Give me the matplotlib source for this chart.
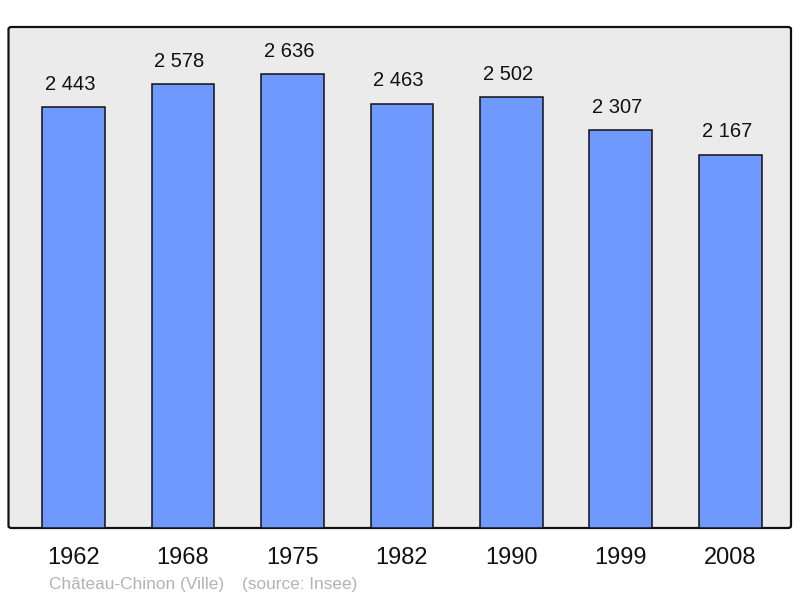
import matplotlib
matplotlib.use("Agg")
from matplotlib import pyplot as plt
from matplotlib.patches import FancyBboxPatch

years = ["1962", "1968", "1975", "1982", "1990", "1999", "2008"]
population = [2443, 2578, 2636, 2463, 2502, 2307, 2167]
value_labels = ["2 443", "2 578", "2 636", "2 463", "2 502", "2 307", "2 167"]
commune = "Château-Chinon (Ville)"
source = "(source: Insee)"

plt.rcParams['font.family'] = ['Liberation Sans', 'DejaVu Sans']

W, H = 800, 598
fig = plt.figure(figsize=(W / 100, H / 100), dpi=100)
# panel: x 8.5..791, y 27..528 (pixels from top)
ax = fig.add_axes([8.5 / W, (H - 528) / H, (791 - 8.5) / W, (528 - 27) / H])
ax.patch.set_visible(False)

bg = FancyBboxPatch((0, 0), 1, 1, boxstyle="round,pad=0,rounding_size=0.004",
                    transform=ax.transAxes, facecolor='#ebebeb',
                    edgecolor='#111111', linewidth=1.6, zorder=0, clip_on=False)
ax.add_patch(bg)

x = list(range(len(years)))
ax.bar(x, population, width=0.575, color='#7099ff', edgecolor='#111111',
       linewidth=1.1, zorder=2)

for xi, v, lab in zip(x, population, value_labels):
    ax.annotate(lab, (xi, v), xytext=(-2.5, 9.5), textcoords='offset points',
                ha='center', va='bottom', fontsize=14.5, color='#111111')

ax.set_xlim(-0.594, 6.553)
ax.set_ylim(0, 2907)
ax.set_yticks([])
ax.set_xticks(x)
ax.set_xticklabels(years, fontsize=17, color='#111111')
ax.tick_params(axis='x', length=0, pad=14)
for s in ax.spines.values():
    s.set_visible(False)

fig.text(49 / W, 1 - 585 / H, commune, fontsize=12.4, color='#b3b3b3',
         ha='left', va='center')
fig.text(242 / W, 1 - 585 / H, source, fontsize=12.4, color='#b3b3b3',
         ha='left', va='center')

plt.savefig("out.png", dpi=100)
plt.close(fig)
